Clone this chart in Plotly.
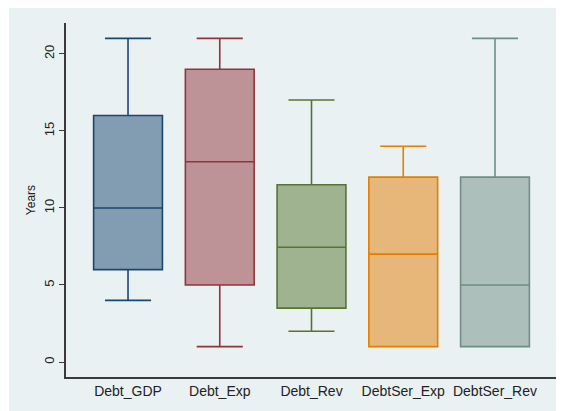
import plotly.graph_objects as go

categories = ["Debt_GDP", "Debt_Exp", "Debt_Rev", "DebtSer_Exp", "DebtSer_Rev"]
lower_whisker = [4, 1, 2, 1, 1]
q1_values = [6, 5, 3.5, 1, 1]
median_values = [10, 13, 7.45, 7, 5]
q3_values = [16, 19, 11.5, 12, 12]
upper_whisker = [21, 21, 17, 14, 21]
y_ticks = [0, 5, 10, 15, 20]

line_colors = ["#1a476f", "#90353b", "#55752f", "#e37e00", "#6e8e84"]
fill_colors = ["rgba(26,71,111,0.5)", "rgba(144,53,59,0.5)", "rgba(85,117,47,0.5)",
               "rgba(227,126,0,0.5)", "rgba(110,142,132,0.5)"]

fig = go.Figure()
for i, cat in enumerate(categories):
    fig.add_trace(go.Box(
        x=[cat], q1=[q1_values[i]], median=[median_values[i]], q3=[q3_values[i]],
        lowerfence=[lower_whisker[i]], upperfence=[upper_whisker[i]],
        name=cat, fillcolor=fill_colors[i],
        line=dict(color=line_colors[i], width=1.6),
        whiskerwidth=0.67, boxpoints=False, showlegend=False, hoverinfo="skip",
    ))

# page has an 8px body margin, so the figure is placed at (8, 8)
OFF = 8
W, H = 564 - OFF, 411 - OFF
ml, mr, mt, mb = 66 - OFF, 7, 23 - OFF, 34
pw, ph = W - ml - mr, H - mt - mb

def px_x(p):
    return (p - OFF - ml) / pw

def px_y(p):
    return (H - mb - (p - OFF)) / ph

fig.add_shape(type="rect", xref="paper", yref="paper",
              x0=px_x(9), x1=px_x(560), y0=px_y(412), y1=px_y(8),
              fillcolor="#eaf1f3", line=dict(width=0), layer="below")

fig.update_layout(
    width=W, height=H,
    margin=dict(l=ml, r=mr, t=mt, b=mb, pad=0),
    paper_bgcolor="white", plot_bgcolor="white",
    boxmode="overlay", boxgap=0.25, boxgroupgap=0,
    font=dict(family="Liberation Sans, Arial, sans-serif", size=13, color="#222222"),
    xaxis=dict(
        type="category", range=[-0.676, 4.676],
        showline=True, linecolor="#3a3a3a", linewidth=1.5,
        ticks="", showgrid=False, zeroline=False,
        tickfont=dict(size=14, color="#222222"),
    ),
    yaxis=dict(
        range=[-0.97, 22.0], tickvals=y_ticks, tickangle=-90,
        showline=True, linecolor="#3a3a3a", linewidth=1.5,
        ticks="outside", ticklen=5, tickcolor="#3a3a3a", tickwidth=1,
        showgrid=True, gridcolor="#eaf2f3", gridwidth=1,
        zeroline=False, tickfont=dict(size=13, color="#222222"),
        title=dict(text="Years", font=dict(size=12, color="#222222"), standoff=4),
    ),
)

fig.write_html("out.html")
